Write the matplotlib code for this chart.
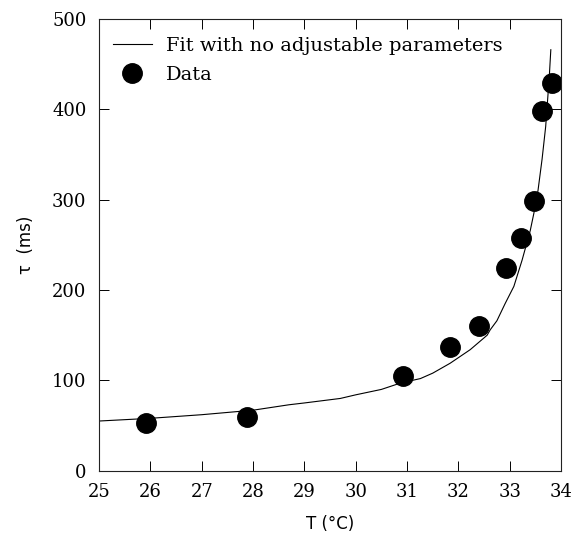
import numpy as np
import matplotlib.pyplot as plt

# measured relaxation times
T_data = [25.91, 27.88, 30.93, 31.84, 32.41, 32.93, 33.21, 33.47, 33.63, 33.82]
tau_data = [53, 60, 105, 137, 160, 224, 258, 299, 398, 429]

# theory curve (no adjustable parameters), sampled
T_fit = [25.0, 26.0, 27.0, 28.0, 28.7, 29.0, 29.7, 30.0, 30.5, 30.87, 31.26,
         31.5, 31.84, 32.23, 32.56, 32.62, 32.75, 32.91, 33.08, 33.24, 33.40,
         33.47, 33.55, 33.63, 33.70, 33.77, 33.80]
tau_fit = [55, 58, 62, 67, 73, 75, 80, 84, 90, 97, 102,
           108, 119, 134, 150, 156, 166, 185, 204, 233, 266,
           285, 310, 345, 381, 436, 466]

plt.rcParams['font.family'] = 'DejaVu Serif'

fig = plt.figure(figsize=(5.74, 5.40), dpi=100)
ax = fig.add_axes([0.1725, 0.1283, 0.805, 0.8365])

ax.plot(T_fit, tau_fit, '-', color='black', linewidth=0.8,
        label='Fit with no adjustable parameters')
ax.plot(T_data, tau_data, 'o', color='black', markersize=14,
        label='Data')

ax.set_xlim(25, 34)
ax.set_ylim(0, 500)
ax.set_xticks(np.arange(25, 35, 1))
ax.set_yticks(np.arange(0, 600, 100))
ax.tick_params(direction='in', length=7, width=0.7, top=True, right=True,
               labelsize=13, pad=9)
for s in ax.spines.values():
    s.set_linewidth(0.8)
    s.set_color('#222222')

ax.set_xlabel('T (°C)', family='DejaVu Sans', fontsize=12, labelpad=10)
ax.set_ylabel('τ  (ms)', family='DejaVu Sans', fontsize=12, labelpad=12)

ax.legend(loc='upper left', frameon=False, fontsize=14, handlelength=2.0,
          handletextpad=0.75, borderaxespad=0.3, labelspacing=0.55,
          bbox_to_anchor=(0.0, 0.99))

fig.savefig('out.png', dpi=100)
